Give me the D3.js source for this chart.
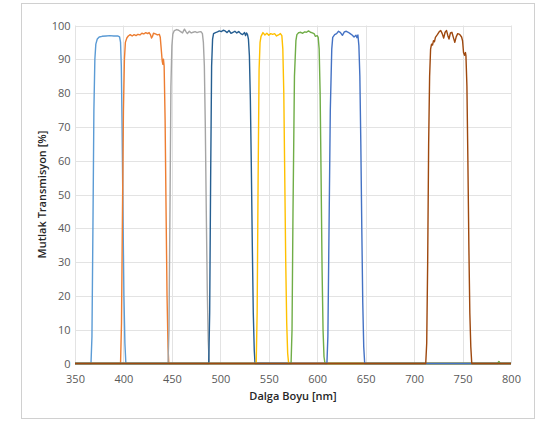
<!DOCTYPE html>
<html>
<head>
<meta charset="utf-8">
<script src="https://cdn.jsdelivr.net/npm/d3@7"></script>
<style>
  body { margin: 0; background: #fff; }
  svg { font-family: "Open Sans", "Noto Sans", sans-serif; }
</style>
</head>
<body>
<script>
// transmission curves, [wavelength nm, transmission %]
var filterA = [[350,0],[366.5,0],[367.5,8],[368.5,40],[369.5,75],[370.5,90],[371.5,94.5],[373,96],[375,96.6],[378,96.8],[382,96.9],[386,97],[390,96.9],[394,96.9],[396,96.6],[397,95],[397.8,88],[398.6,70],[399.5,45],[400.5,20],[401.5,6],[402.5,0],[800,0]];
var filterB = [[350,0],[397,0],[398,12],[399,45],[400,75],[401,90],[402,95],[403.5,96.3],[405,96.9],[407,97.3],[409,96.9],[411,97.3],[413,97],[415,97.4],[417,97.2],[419,97.7],[421,97.5],[423,97.9],[425,97.6],[426.5,97.9],[428,97.2],[429,96.3],[430,96.8],[431,97.7],[433,97.5],[435,97.2],[437,97.4],[438,96.5],[439,93],[440,89.5],[440.7,88.5],[441.3,90],[442,88],[443,72],[444,45],[445,20],[446,5],[446.8,0],[800,0]];
var filterC = [[350,0],[446,0],[447,10],[448,45],[449,82],[450,94],[451,97.5],[452.5,98.5],[455,98.8],[457,98.6],[459,98.2],[461,97.8],[462,98.4],[463,98.9],[464.5,98.2],[466,97.6],[468,98.3],[470,97.8],[472,98],[474,98.2],[476,97.9],[478,98.1],[480,98.2],[481.5,97.6],[482.5,95],[483.5,88],[484.5,70],[485.5,45],[486.5,22],[487.5,7],[488.5,0],[800,0]];
var filterD = [[350,0],[488,0],[489,15],[490,55],[491,88],[492,96],[493,97.6],[495,97.9],[497,98.1],[499,98.4],[501,98.2],[503,98.6],[505,98.4],[507,97.9],[509,98.5],[511,97.7],[513,98],[515,98.3],[517,97.8],[519,98.2],[521,97.6],[523,97.3],[525,97.9],[526,97],[527,97.8],[528,97.4],[529,96],[530,91],[531,78],[532,58],[533,35],[534,15],[535,4],[535.8,0],[800,0]];
var filterE = [[350,0],[537,0],[538,15],[539,55],[540,87],[541,95],[542,96.8],[544,97.9],[546,97.2],[548,97.7],[550,97.1],[552,97.6],[554,97.4],[556,97.6],[558,96.9],[560,97.2],[562,97.6],[563.5,97],[564.5,93],[565.5,80],[566.5,55],[567.5,30],[568.5,12],[569.5,3],[570.5,0],[800,0]];
var filterF = [[350,0],[573,0],[574,10],[575,45],[576.5,85],[578,95.5],[579,97.3],[581,97.9],[583,98],[585,97.7],[587,98.1],[589,98],[591,98.4],[593,98],[595,97.8],[597,97.5],[598,96.8],[600,97],[601,96.5],[602,93],[603,80],[604,55],[605,28],[606,10],[607,2],[608,0],[786,0],[787.5,0.6],[789,0],[800,0]];
var filterG = [[350,0],[610,0],[611,8],[612,35],[613.5,75],[615,93],[616,96.5],[618,97.3],[620,97.6],[622,98.3],[624,97.9],[626,97.1],[628,98.1],[630,98.3],[632,98],[634,97.6],[636,97.2],[638,96.6],[640,97.1],[641,96.4],[642,97.2],[643,94],[644,85],[645,65],[646,40],[647,18],[648,5],[649,0],[800,0]];
var filterH = [[350,0],[712,0],[713,6],[714,30],[715,65],[716,85],[717,93],[718,94.5],[719,94.2],[720,95.5],[721,95.2],[722,96.5],[724,97.3],[726,98.2],[727.5,98.5],[729,97.6],[730.5,96.3],[732,98],[733.5,98.5],[735,96.8],[736,96],[737.5,97.8],[739,98],[740.5,96.5],[742,95],[743.5,96.7],[745,97.6],[747,97.4],[749,96.6],[750,95.5],[751,92],[752,91.2],[753,92],[753.5,91],[754.5,82],[755.5,60],[756.5,35],[757.5,15],[758.5,5],[759.5,0],[800,0]];

var curves = [filterA, filterB, filterC, filterD, filterE, filterF, filterG, filterH];
var colors = ["#5B9BD5", "#ED7D31", "#A5A5A5", "#255E91", "#FFC000", "#70AD47", "#4472C4", "#9E480E"];
var xTicks = [350, 400, 450, 500, 550, 600, 650, 700, 750, 800];
var yTicks = [0, 10, 20, 30, 40, 50, 60, 70, 80, 90, 100];

var w = 546, h = 422;
var plotLeft = 75, plotRight = 511, plotTop = 25.5, plotBottom = 363.5;

var svg = d3.select("body").append("svg").attr("width", w).attr("height", h);

svg.append("rect")
  .attr("x", 21.5).attr("y", 3.5).attr("width", 513).attr("height", 415)
  .attr("fill", "#fff").attr("stroke", "#d0d0d0");

var xScale = d3.scaleLinear().domain([350, 800]).range([plotLeft, plotRight]);
var yScale = d3.scaleLinear().domain([0, 100]).range([plotBottom, plotTop]);

// gridlines
svg.append("g").selectAll("line")
  .data(yTicks).enter().append("line")
  .attr("x1", plotLeft).attr("x2", plotRight)
  .attr("y1", function(d){ return Math.round(yScale(d)) + 0.5; })
  .attr("y2", function(d){ return Math.round(yScale(d)) + 0.5; })
  .attr("stroke", "#e3e3e3");
svg.append("g").selectAll("line")
  .data(xTicks).enter().append("line")
  .attr("y1", plotTop).attr("y2", plotBottom)
  .attr("x1", function(d){ return Math.round(xScale(d)) + 0.5; })
  .attr("x2", function(d){ return Math.round(xScale(d)) + 0.5; })
  .attr("stroke", "#e3e3e3");

var xAxis = d3.axisBottom(xScale).tickValues(xTicks).tickSize(0).tickPadding(12);
var yAxis = d3.axisLeft(yScale).tickValues(yTicks).tickSize(0).tickPadding(4.5);

var gx = svg.append("g").attr("transform", "translate(0," + plotBottom + ")").call(xAxis);
var gy = svg.append("g").attr("transform", "translate(" + plotLeft + ",0)").call(yAxis);
[gx, gy].forEach(function(g){
  g.select(".domain").remove();
  g.selectAll("text").attr("fill", "#595959").style("font-size", "11px").style("font-family", "'Open Sans', sans-serif");
});

var line = d3.line()
  .x(function(d){ return xScale(d[0]); })
  .y(function(d){ return yScale(d[1]); });

svg.append("g").selectAll("path")
  .data(curves).enter().append("path")
  .attr("d", line)
  .attr("fill", "none")
  .attr("stroke", function(d, i){ return colors[i]; })
  .attr("stroke-width", 1.4)
  .attr("stroke-linejoin", "round");

svg.append("text")
  .attr("x", 293).attr("y", 400)
  .attr("text-anchor", "middle")
  .style("font-size", "11px").style("font-weight", "600")
  .attr("fill", "#262626")
  .text("Dalga Boyu [nm]");

svg.append("text")
  .attr("transform", "translate(46," + ((plotTop + plotBottom) / 2) + ") rotate(-90)")
  .attr("text-anchor", "middle")
  .style("font-size", "11px").style("font-weight", "600")
  .attr("fill", "#262626")
  .text("Mutlak Transmisyon [%]");
</script>
</body>
</html>
